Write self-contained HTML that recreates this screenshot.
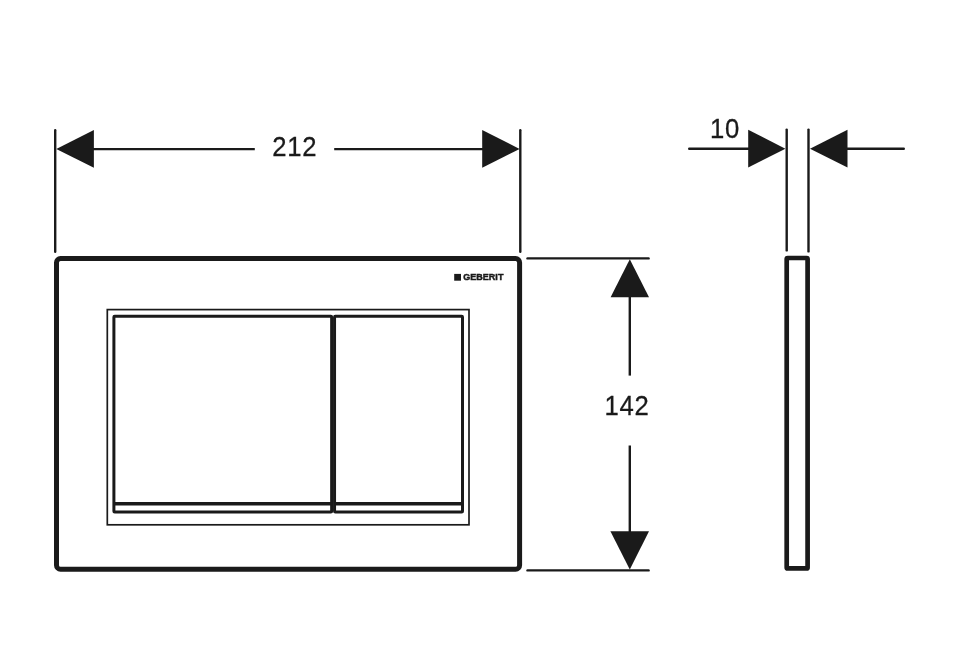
<!DOCTYPE html>
<html>
<head>
<meta charset="utf-8">
<title>Geberit actuator plate dimensions</title>
<style>
html,body{margin:0;padding:0;background:#fff;}
body{width:977px;height:666px;overflow:hidden;font-family:"Liberation Sans",sans-serif;}
svg{display:block;}
text{font-family:"Liberation Sans",sans-serif;fill:#1a1a1a;}
</style>
</head>
<body>
<svg width="977" height="666" viewBox="0 0 977 666">
<rect width="977" height="666" fill="#ffffff"/>
<g fill="none" stroke="#1a1a1a" stroke-linecap="round">
  <!-- 212 dimension -->
  <g stroke-width="2.4">
    <line x1="55.2" y1="130.2" x2="55.2" y2="251.8"/>
    <line x1="520.3" y1="130.2" x2="520.3" y2="251.8"/>
    <line x1="92" y1="149.1" x2="254.8" y2="149.1" stroke-linecap="butt"/>
    <line x1="334.2" y1="149.1" x2="484" y2="149.1" stroke-linecap="butt"/>
    <!-- 142 dimension -->
    <line x1="527.5" y1="258.4" x2="648.6" y2="258.4"/>
    <line x1="527.5" y1="570.4" x2="648.6" y2="570.4"/>
    <line x1="629.8" y1="295" x2="629.8" y2="375.6" stroke-linecap="butt"/>
    <line x1="629.8" y1="445.5" x2="629.8" y2="533" stroke-linecap="butt"/>
    <!-- 10 dimension -->
    <line x1="786.7" y1="129.6" x2="786.7" y2="250.4"/>
    <line x1="808.5" y1="129.6" x2="808.5" y2="251.4"/>
    <line x1="689.2" y1="148.7" x2="750" y2="148.7"/>
    <line x1="846" y1="148.7" x2="903.8" y2="148.7"/>
  </g>
  <!-- main plate -->
  <rect x="56.5" y="258.5" width="463.1" height="310.7" rx="4" ry="4" stroke-width="5"/>
  <!-- thin frame -->
  <rect x="107.3" y="309.6" width="361.7" height="215.2" stroke-width="1.7" stroke-linejoin="miter" stroke-linecap="butt"/>
  <!-- buttons -->
  <g stroke-width="3" stroke-linejoin="round">
    <rect x="113.9" y="316.3" width="217.75" height="195.8" rx="0.8"/>
    <rect x="334.55" y="316.3" width="127.95" height="195.8" rx="0.8"/>
  </g>
  <g stroke-width="3.6" stroke-linecap="butt">
    <line x1="113.9" y1="503.8" x2="331.5" y2="503.8"/>
    <line x1="334.7" y1="503.8" x2="462.5" y2="503.8"/>
  </g>
  <!-- side view -->
  <rect x="786.7" y="258" width="20.9" height="310.4" rx="1" ry="1" stroke-width="4.7"/>
</g>
<g fill="#1a1a1a" stroke="none">
  <polygon points="56.3,149 93.9,130 93.9,167.8"/>
  <polygon points="519.6,149 482.2,130 482.2,167.8"/>
  <polygon points="629.8,259.2 610.6,297.3 649,297.3"/>
  <polygon points="629.8,569.4 610.4,531.3 649,531.3"/>
  <polygon points="785.4,148.7 748.2,129.7 748.2,167.5"/>
  <polygon points="810,148.7 847.5,129.7 847.5,167.5"/>
  <!-- logo -->
  <rect x="454.2" y="273.9" width="6.8" height="6.8"/>
</g>
<g style="filter:grayscale(1)">
<text transform="translate(272.3 155.9) scale(0.928 1)" font-size="27.7" letter-spacing="0.8" stroke="#1a1a1a" stroke-width="0.3">212</text>
<text transform="translate(604.4 414.9) scale(0.928 1)" font-size="27.7" letter-spacing="0.8" stroke="#1a1a1a" stroke-width="0.3">142</text>
<text transform="translate(709.9 137.9) scale(0.928 1)" font-size="27.7" letter-spacing="0.8" stroke="#1a1a1a" stroke-width="0.3">10</text>
<text x="463.3" y="280.4" font-size="9.2" font-weight="bold" stroke="#1a1a1a" stroke-width="0.45" stroke-linejoin="miter" textLength="40.1" lengthAdjust="spacingAndGlyphs">GEBERIT</text>
</g>
</svg>
</body>
</html>
